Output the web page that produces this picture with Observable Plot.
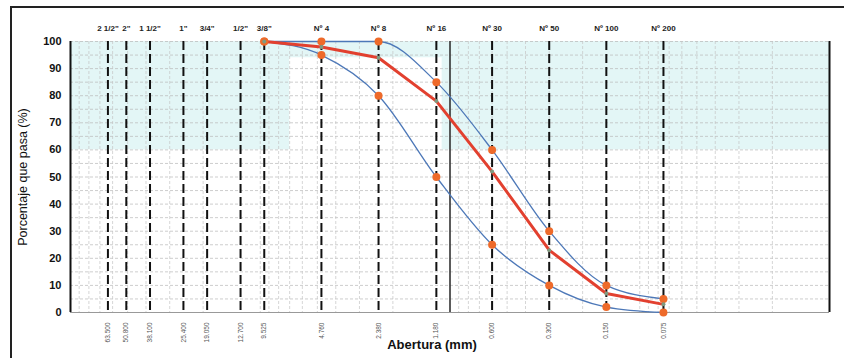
<!DOCTYPE html>
<html>
<head>
<meta charset="utf-8">
<script src="https://cdn.jsdelivr.net/npm/d3@7"></script>
<script src="https://cdn.jsdelivr.net/npm/@observablehq/plot@0.6"></script>
<style>
  html, body { margin: 0; padding: 0; background: #fff; }
  #wrap { position: relative; width: 845px; height: 358px; overflow: hidden; font-family: Arial, "Liberation Sans", sans-serif; }
  #border { position: absolute; left: 10px; top: 6px; width: 832px; height: 350px; border-left: 2px solid #222; border-top: 2px solid #222; border-bottom: 1px solid #555; pointer-events: none; }
</style>
</head>
<body>
<div id="wrap"><div id="border"></div></div>
<script>
// Sieve openings (mm) and labels
const sieves = [63.5, 50.8, 38.1, 25.4, 19.05, 12.7, 9.525, 4.76, 2.38, 1.18, 0.6, 0.3, 0.15, 0.075];
const sieveNames = ['2 1/2"', '2"', '1 1/2"', '1"', '3/4"', '1/2"', '3/8"', 'Nº 4', 'Nº 8', 'Nº 16', 'Nº 30', 'Nº 50', 'Nº 100', 'Nº 200'];
const sieveLabels = ["63.500", "50.800", "38.100", "25.400", "19.050", "12.700", "9.525", "4.760", "2.380", "1.180", "0.600", "0.300", "0.150", "0.075"];

// Curves (percentage passing)
const curveSieves = [9.525, 4.76, 2.38, 1.18, 0.6, 0.3, 0.15, 0.075];
const upperLimit = [100, 100, 100, 85, 60, 30, 10, 5];
const lowerLimit = [100, 95, 80, 50, 25, 10, 2, 0];
const gradation  = [100, 98, 94, 78, 52, 23, 7, 3];

// Axis ticks
const yTicks = [0, 10, 20, 30, 40, 50, 60, 70, 80, 90, 100];
const yGrid = d3.range(0, 101, 5);
const decades = [0.01, 0.1, 1, 10];
const minorGrid = decades.flatMap(d => [1,2,3,4,5,6,7,8,9].map(k => +(d * k).toPrecision(3))).filter(v => v > 0.01 && v !== 1 && v < 100);

// Background tint bands (scan tint)
const bands = [
  {x1: 100, x2: 0.01, y1: 94, y2: 100},
  {x1: 100, x2: 7, y1: 60, y2: 100},
  {x1: 1.1, x2: 0.01, y1: 60, y2: 100}
];

const toRows = vals => curveSieves.map((s, i) => ({s, v: vals[i]}));
const sieveRows = sieves.map((s, i) => ({s, name: sieveNames[i], label: sieveLabels[i]}));

const chart = Plot.plot({
  width: 845,
  height: 358,
  marginLeft: 70,
  marginRight: 16,
  marginTop: 41,
  marginBottom: 46,
  style: {fontFamily: 'Arial, "Liberation Sans", sans-serif', background: "transparent", overflow: "visible"},
  x: {type: "log", domain: [100, 0.01], axis: null},
  y: {domain: [0, 100]},
  marks: [
    Plot.rect(bands, {x1: "x1", x2: "x2", y1: "y1", y2: "y2", fill: "#e3f6f6"}),
    Plot.ruleY(yGrid, {stroke: "#b8b8b8", strokeWidth: 0.7, strokeDasharray: "3,2"}),
    Plot.ruleX(minorGrid, {stroke: "#c4c4c4", strokeWidth: 0.7, strokeDasharray: "3,2"}),
    Plot.ruleX([1], {stroke: "#333", strokeWidth: 1.6}),
    Plot.ruleX(sieves, {stroke: "#111", strokeWidth: 2, strokeDasharray: "9,4"}),
    Plot.ruleY([0], {stroke: "#999", strokeWidth: 1}),
    Plot.ruleX([100, 0.01], {stroke: "#111", strokeWidth: 2}),
    Plot.line(toRows(upperLimit), {x: "s", y: "v", stroke: "#4d78b8", strokeWidth: 1.3, curve: "monotone-x"}),
    Plot.line(toRows(lowerLimit), {x: "s", y: "v", stroke: "#4d78b8", strokeWidth: 1.3, curve: "monotone-x"}),
    Plot.line(toRows(gradation), {x: "s", y: "v", stroke: "#e2402f", strokeWidth: 3}),
    Plot.dot(toRows(upperLimit), {x: "s", y: "v", r: 4, fill: "#ee6a2a", stroke: "none"}),
    Plot.dot(toRows(lowerLimit), {x: "s", y: "v", r: 4, fill: "#ee6a2a", stroke: "none"}),
    Plot.dot(toRows(gradation), {x: "s", y: "v", r: 2, fill: "#7f9a80", stroke: "none"}),
    Plot.axisY({ticks: yTicks, tickSize: 0, tickPadding: 9, fontSize: 11, fontWeight: "bold", fill: "#111", label: null}),
    Plot.text(sieveRows, {x: "s", text: "name", frameAnchor: "top", dy: -11, lineAnchor: "bottom", fontSize: 8, fontWeight: "bold", fill: "#222"}),
    Plot.text(sieveRows, {x: "s", text: "label", frameAnchor: "bottom", dy: 10, rotate: -90, textAnchor: "end", lineAnchor: "middle", fontSize: 6.5, fill: "#555"}),
    Plot.text(["Abertura (mm)"], {frameAnchor: "bottom", dx: -18, dy: 36, fontSize: 13, fontWeight: "bold", fill: "#111"}),
    Plot.text(["Porcentaje que pasa (%)"], {frameAnchor: "left", dx: -48, rotate: -90, textAnchor: "middle", fontSize: 12.5, fill: "#111"})
  ]
});
document.getElementById("wrap").prepend(chart);
</script>
</body>
</html>
